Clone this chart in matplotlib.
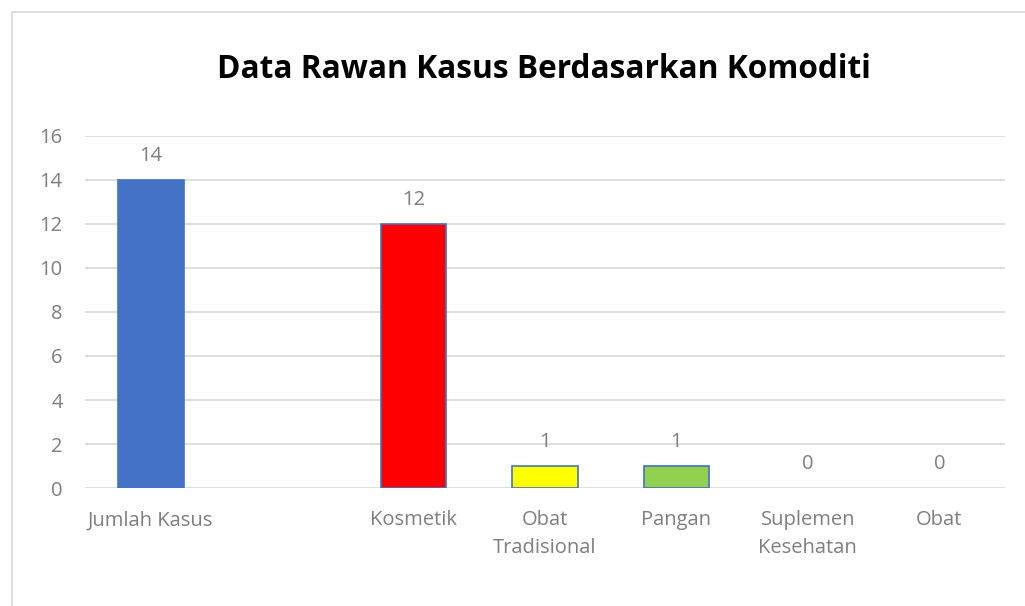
import matplotlib
matplotlib.use("Agg")
import matplotlib.pyplot as plt
from matplotlib.patches import Rectangle

categories = ["Jumlah Kasus", "", "Kosmetik", "Obat\nTradisional", "Pangan", "Suplemen\nKesehatan", "Obat"]
values = [14, None, 12, 1, 1, 0, 0]
colors = ["#4472C4", "#FFFFFF", "#FF0000", "#FFFF00", "#92D050", "#FFFFFF", "#FFFFFF"]
edges = ["#4472C4", "none", "#4472C4", "#4472C4", "#4472C4", "none", "none"]
yticks = [0, 2, 4, 6, 8, 10, 12, 14, 16]
title = "Data Rawan Kasus Berdasarkan Komoditi"

plt.rcParams['font.family'] = ['Open Sans', 'DejaVu Sans']
FS = 14.5

fig = plt.figure(figsize=(10.25, 6.06), dpi=100)
fig.patches.append(Rectangle((12/1025, -0.1), 1.2, 1 - 12/606 + 0.1, transform=fig.transFigure,
                             fill=False, edgecolor="#D9D9D9", linewidth=1.2))
ax = fig.add_axes([85/1025, 1 - 488/606, 920/1025, 352/606])

x = list(range(len(categories)))
for xi, v, c, e in zip(x, values, colors, edges):
    if v is None:
        continue
    if v > 0:
        ax.bar(xi, v, width=0.5, color=c, edgecolor=e, linewidth=1.2, zorder=3)
    ax.annotate(str(v), (xi, v), xytext=(0, 17), textcoords="offset points",
                ha="center", va="center", fontsize=FS, color="#7F7F7F")

ax.set_xlim(-0.5, len(categories) - 0.5)
ax.set_ylim(0, 16)
ax.set_yticks(yticks)
ax.set_xticks(x)
ax.set_xticklabels(categories, fontsize=FS, color="#7F7F7F", linespacing=1.5, va="top")
ax.tick_params(axis="both", length=0, labelsize=FS, colors="#7F7F7F")
ax.tick_params(axis="x", pad=16)
ax.tick_params(axis="y", pad=16)
for lbl in ax.get_yticklabels():
    lbl.set_color("#7F7F7F")
ax.grid(axis="y", color="#D9D9D9", linewidth=1.2, zorder=0)
for s in ax.spines.values():
    s.set_visible(False)

fig.text(544/1025, 1 - 70/606, title, ha="center", va="center", fontsize=22.8, fontweight="bold", color="black")

fig.savefig("out.png", dpi=100)
